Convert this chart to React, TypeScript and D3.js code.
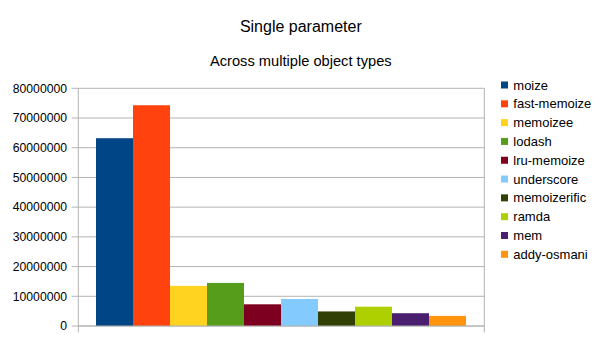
import React from "react";
import * as d3 from "d3";

const categories = ["moize", "fast-memoize", "memoizee", "lodash", "lru-memoize", "underscore", "memoizerific", "ramda", "mem", "addy-osmani"];
const values = [63200000, 74300000, 13500000, 14500000, 7300000, 9100000, 4900000, 6500000, 4300000, 3400000];
const colors = ["#004586", "#ff420e", "#ffd320", "#579d1c", "#7e0021", "#83caff", "#314004", "#aecf00", "#4b1f6f", "#ff950e"];
const yTicks = [0, 10000000, 20000000, 30000000, 40000000, 50000000, 60000000, 70000000, 80000000];
const title = "Single parameter";
const subtitle = "Across multiple object types";

const W = 604, H = 340;
const left = 78.3, right = 484.3, top = 88.3, bottom = 326;
const font = "'Liberation Sans', Arial, sans-serif";

export default function App() {
  const y = d3.scaleLinear().domain([0, 80000000]).range([bottom, top]);
  const x = d3.scaleBand().domain(categories).range([96, 466]).paddingInner(0).paddingOuter(0);
  const legendY = d3.scalePoint().domain(categories).range([85, 254.3]);
  const grid = "#b3b3b3";
  return (
    <svg width={W} height={H} style={{ position: "absolute", left: 0, top: 0, background: "#fff" }} fontFamily={font}>
      <rect width={W} height={H} fill="#fff" />
      <text x={300.8} y={32} textAnchor="middle" fontSize={16} fill="#000">{title}</text>
      <text x={300.8} y={66} textAnchor="middle" fontSize={14.67} fill="#000">{subtitle}</text>
      {yTicks.map((t) => (
        <g key={t}>
          <line x1={left} x2={right} y1={y(t)} y2={y(t)} stroke={grid} strokeWidth={1} />
          <line x1={71.7} x2={left} y1={y(t)} y2={y(t)} stroke={grid} strokeWidth={1} />
          <text x={67} y={y(t)} dy="0.35em" textAnchor="end" fontSize={12.2} fill="#000">{t}</text>
        </g>
      ))}
      {categories.map((c, i) => (
        <rect key={c} x={x(c)} y={y(values[i])} width={x.bandwidth()} height={bottom - y(values[i])} fill={colors[i]} />
      ))}
      <line x1={left} x2={left} y1={top} y2={332.3} stroke={grid} strokeWidth={1} />
      <line x1={right} x2={right} y1={top} y2={332.3} stroke={grid} strokeWidth={1} />
      <line x1={left} x2={right} y1={bottom} y2={bottom} stroke={grid} strokeWidth={1} />
      {categories.map((c, i) => (
        <g key={c} transform={`translate(0,${legendY(c)})`}>
          <rect x={501} y={-3.5} width={7} height={7} fill={colors[i]} />
          <text x={513.3} y={0} dy="0.35em" fontSize={13} fill="#000">{c}</text>
        </g>
      ))}
    </svg>
  );
}
